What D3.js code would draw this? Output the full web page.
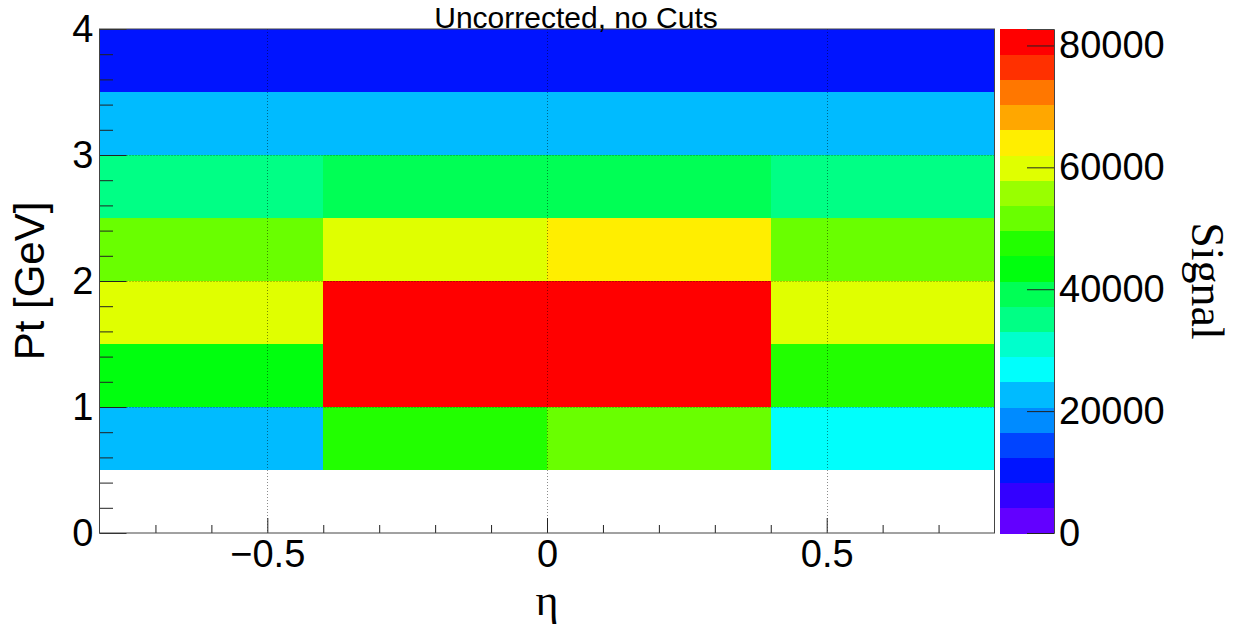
<!DOCTYPE html>
<html>
<head>
<meta charset="utf-8">
<script src="https://cdn.jsdelivr.net/npm/d3@7"></script>
<style>
  html, body { margin: 0; padding: 0; background: #fff; }
  svg { display: block; }
</style>
</head>
<body>
<svg id="chart" width="1236" height="628"></svg>
<script>
// Bin edges of the 2D histogram
const etaEdges = [-0.8, -0.4, 0, 0.4, 0.8];
const ptEdges = [0, 0.5, 1, 1.5, 2, 2.5, 3, 3.5, 4];

// Signal per Pt bin (rows, low to high Pt), one value per eta bin
const signalPt0 = [0, 0, 0, 0];                   // 0.0 - 0.5
const signalPt1 = [22400, 47500, 51700, 26900];   // 0.5 - 1.0
const signalPt2 = [43400, 81000, 82700, 47600];   // 1.0 - 1.5
const signalPt3 = [60000, 82700, 80500, 60200];   // 1.5 - 2.0
const signalPt4 = [51700, 60000, 64100, 51900];   // 2.0 - 2.5
const signalPt5 = [35100, 39300, 39500, 35400];   // 2.5 - 3.0
const signalPt6 = [22700, 22900, 22800, 22600];   // 3.0 - 3.5
const signalPt7 = [10300, 10400, 10200, 10300];   // 3.5 - 4.0
const signalRows = [signalPt0, signalPt1, signalPt2, signalPt3,
                    signalPt4, signalPt5, signalPt6, signalPt7];

// Axis ticks and labels
const etaMajorTicks = [-0.5, 0, 0.5];
const etaMajorLabels = ["\u22120.5", "0", "0.5"];
const etaMinorTicks = [-0.7, -0.6, -0.4, -0.3, -0.2, -0.1, 0.1, 0.2, 0.3, 0.4, 0.6, 0.7];
const ptMajorTicks = [0, 1, 2, 3, 4];
const ptMinorTicks = [0.2, 0.4, 0.6, 0.8, 1.2, 1.4, 1.6, 1.8, 2.2, 2.4, 2.6, 2.8, 3.2, 3.4, 3.6, 3.8];
const zTicks = [0, 20000, 40000, 60000, 80000];

const titleText = "Uncorrected, no Cuts";
const xTitle = "\u03b7";
const yTitle = "Pt [GeV]";
const zTitle = "Signal";
const nContours = 20;

// Flatten into cells
const cells = [];
signalRows.forEach((row, j) => row.forEach((v, i) => {
  cells.push({ x0: etaEdges[i], x1: etaEdges[i + 1], y0: ptEdges[j], y1: ptEdges[j + 1], v });
}));
const zMax = d3.max(cells, d => d.v);

// Frame geometry
const frame = { left: 99.5, right: 994.5, top: 29, bottom: 533 };
const pal = { left: 1000, right: 1054 };

const x = d3.scaleLinear().domain([-0.8, 0.8]).range([frame.left, frame.right]);
const y = d3.scaleLinear().domain([0, 4]).range([frame.bottom, frame.top]);
const z = d3.scaleLinear().domain([0, zMax]).range([frame.bottom, frame.top]);

// Violet -> red spectrum (50 colours, HLS hue scan, last is pure red)
function paletteColor(idx) {
  if (idx >= 49) return "rgb(255,0,0)";
  const hue = 280 - (idx + 1) * (280 / 50);
  return d3.hsl(hue, 1, 0.5).formatRgb();
}
function levelColor(k) {
  const idx = Math.floor((k + 0.99) * 50 / nContours);
  return paletteColor(idx);
}
function levelOf(v) {
  return Math.min(nContours - 1, Math.floor(v / zMax * nContours));
}

const svg = d3.select("#chart");
const font = "'Liberation Sans', Arial, Helvetica, sans-serif";
const labelSize = 38;

// Histogram cells (empty bins are not drawn)
svg.append("g").selectAll("rect")
  .data(cells.filter(d => d.v > 0))
  .join("rect")
  .attr("x", d => x(d.x0))
  .attr("y", d => y(d.y1))
  .attr("width", d => x(d.x1) - x(d.x0))
  .attr("height", d => y(d.y0) - y(d.y1))
  .attr("fill", d => levelColor(levelOf(d.v)))
  .attr("shape-rendering", "crispEdges");

// Dotted grid at major ticks
const grid = svg.append("g")
  .attr("stroke", "#000")
  .attr("stroke-width", 1)
  .attr("stroke-dasharray", "1,2")
  .attr("stroke-opacity", 0.45);
grid.selectAll("line.gx").data(etaMajorTicks).join("line")
  .attr("x1", d => Math.round(x(d)) + 0.5).attr("x2", d => Math.round(x(d)) + 0.5)
  .attr("y1", frame.top).attr("y2", frame.bottom);
grid.selectAll("line.gy").data(ptMajorTicks.filter(t => t > 0 && t < 4)).join("line")
  .attr("y1", d => Math.round(y(d)) + 0.5).attr("y2", d => Math.round(y(d)) + 0.5)
  .attr("x1", frame.left).attr("x2", frame.right);

// X axis (ticks pointing inward)
svg.append("g").attr("transform", `translate(0,${frame.bottom})`)
  .call(d3.axisBottom(x).tickValues(etaMajorTicks)
    .tickFormat((d, i) => etaMajorLabels[i]).tickSize(-15).tickPadding(7));
svg.append("g").attr("transform", `translate(0,${frame.bottom})`)
  .call(d3.axisBottom(x).tickValues(etaMinorTicks).tickFormat("").tickSize(-8));

// Y axis
svg.append("g").attr("transform", `translate(${frame.left},0)`)
  .call(d3.axisLeft(y).tickValues(ptMajorTicks).tickFormat(d3.format("d")).tickSize(-27).tickPadding(6));
svg.append("g").attr("transform", `translate(${frame.left},0)`)
  .call(d3.axisLeft(y).tickValues(ptMinorTicks).tickFormat("").tickSize(-13.5));

svg.selectAll(".domain").remove();
svg.selectAll(".tick line").attr("stroke", "#222");
svg.selectAll(".tick text")
  .attr("font-family", font).attr("font-size", labelSize).attr("fill", "#000");

// Frame
svg.append("rect")
  .attr("x", frame.left).attr("y", frame.top)
  .attr("width", frame.right - frame.left).attr("height", frame.bottom - frame.top)
  .attr("fill", "none").attr("stroke", "#444").attr("stroke-width", 1);

// Colour palette
const levels = d3.range(nContours);
svg.append("g").selectAll("rect")
  .data(levels)
  .join("rect")
  .attr("x", pal.left)
  .attr("y", k => z((k + 1) * zMax / nContours))
  .attr("width", pal.right - pal.left)
  .attr("height", k => z(k * zMax / nContours) - z((k + 1) * zMax / nContours) + 0.5)
  .attr("fill", k => levelColor(k))
  .attr("shape-rendering", "crispEdges");

const zAxisG = svg.append("g").attr("transform", `translate(${pal.right},0)`)
  .call(d3.axisRight(z).tickValues(zTicks).tickFormat(d3.format("d")).tickSize(-27).tickPadding(5));
zAxisG.select(".domain").attr("stroke", "#444");
zAxisG.selectAll(".tick line").attr("stroke", "#222");
zAxisG.selectAll(".tick text")
  .attr("font-family", font).attr("font-size", labelSize).attr("fill", "#000");

// Titles
svg.append("text")
  .attr("x", 576).attr("y", 28)
  .attr("text-anchor", "middle")
  .attr("font-family", font).attr("font-size", 30)
  .text(titleText);

svg.append("text")
  .attr("x", (frame.left + frame.right) / 2).attr("y", 615)
  .attr("text-anchor", "middle")
  .attr("font-family", "'Liberation Serif', 'DejaVu Serif', serif").attr("font-size", 44)
  .text(xTitle);

svg.append("text")
  .attr("transform", `translate(44,${(frame.top + frame.bottom) / 2}) rotate(-90)`)
  .attr("text-anchor", "middle")
  .attr("font-family", font).attr("font-size", 42)
  .text(yTitle);

svg.append("text")
  .attr("transform", `translate(1192,${(frame.top + frame.bottom) / 2}) rotate(90)`)
  .attr("text-anchor", "middle")
  .attr("font-family", "'Liberation Serif', 'DejaVu Serif', serif").attr("font-size", 46)
  .text(zTitle);
</script>
</body>
</html>
